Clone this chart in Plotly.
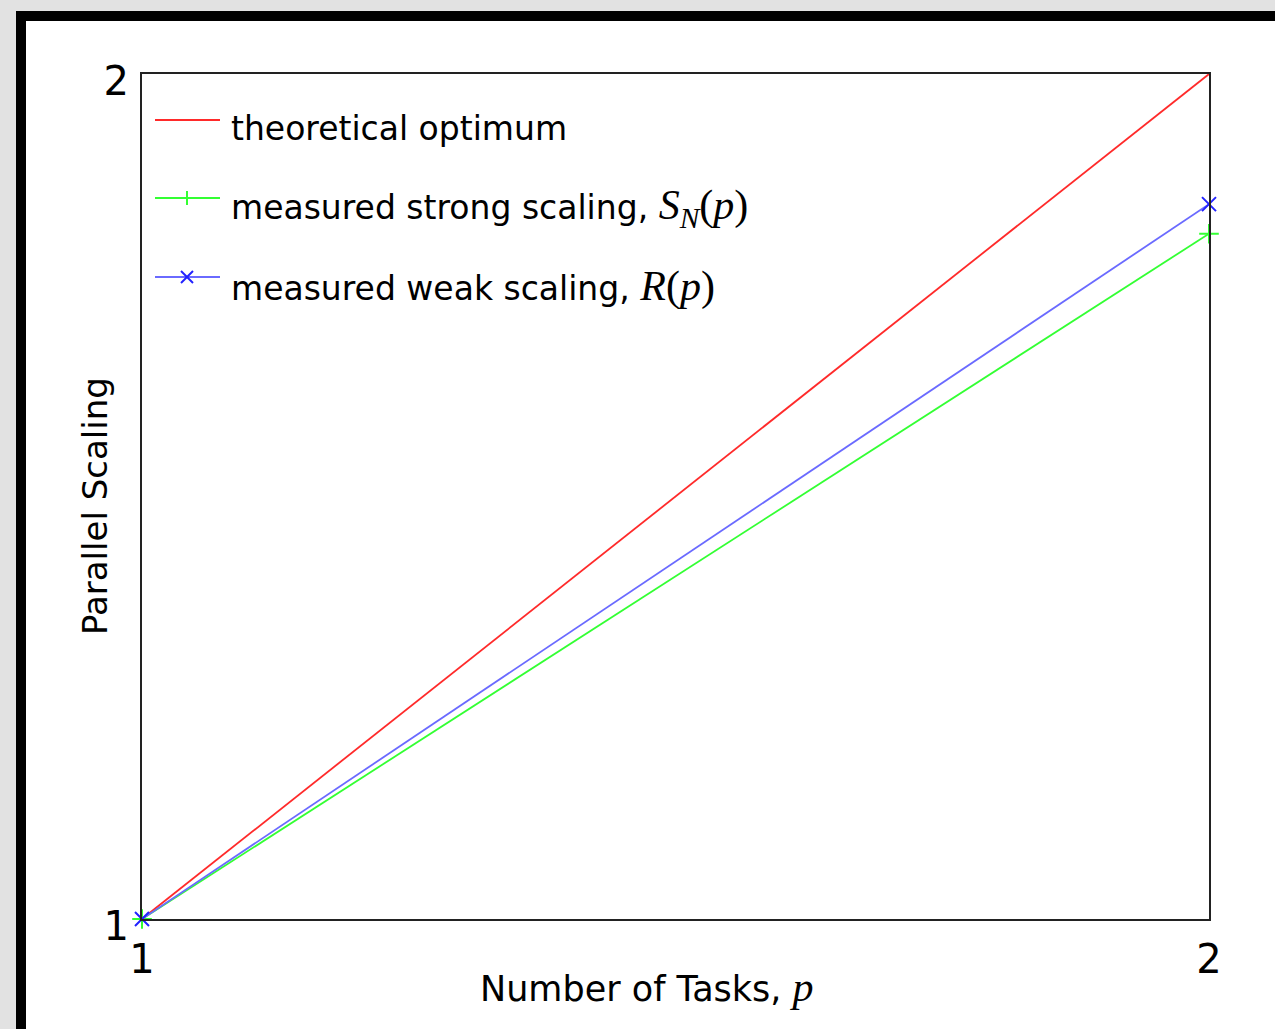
import plotly.graph_objects as go

tasks = [1, 2]
theoretical = [1, 2]
strong = [1, 1.811]
weak = [1, 1.846]

MATH = "<span style=\"font-family:'Liberation Serif';font-size:42px\">{}</span>"
legend_labels = [
    "theoretical optimum",
    "measured strong scaling, " + MATH.format("<i>S<sub>N</sub></i>(<i>p</i>)"),
    "measured weak scaling, " + MATH.format("<i>R</i>(<i>p</i>)"),
]
x_title = "Number of Tasks, " + MATH.format("<i>p</i>")
y_title = "Parallel Scaling"
ticks = [1, 2]

W, H = 1275, 1029
L, R, T, B = 142, 66, 74, 110
pw, ph = W - L - R, H - T - B

def px(x):
    return (x - L) / pw

def py(y):
    return (H - B - y) / ph

FONT = "DejaVu Sans"
RED = "#ff2a2a"
GREEN = "#33ff33"
BLUE = "#6a6aff"
BLUE_M = "#2222ff"

fig = go.Figure()
fig.add_trace(go.Scatter(x=tasks, y=theoretical, mode="lines",
                         line=dict(color=RED, width=1.8), cliponaxis=False))
fig.add_trace(go.Scatter(x=tasks, y=strong, mode="lines+markers",
                         line=dict(color=GREEN, width=1.8),
                         marker=dict(symbol="cross-thin", size=14, line=dict(color=GREEN, width=2)),
                         cliponaxis=False))
fig.add_trace(go.Scatter(x=tasks, y=weak, mode="lines+markers",
                         line=dict(color=BLUE, width=1.8),
                         marker=dict(symbol="x-thin", size=14, line=dict(color=BLUE_M, width=2)),
                         cliponaxis=False))

shapes = []
# page frame
shapes.append(dict(type="rect", xref="paper", yref="paper", layer="below",
                   x0=px(16), x1=px(1300), y0=py(11), y1=py(1060),
                   fillcolor="black", line=dict(width=0)))
shapes.append(dict(type="rect", xref="paper", yref="paper", layer="below",
                   x0=px(26), x1=px(1300), y0=py(21), y1=py(1060),
                   fillcolor="white", line=dict(width=0)))

# manual legend
leg_y = [120, 198, 277]
leg_colors = [RED, GREEN, BLUE]
for i, (yy, c) in enumerate(zip(leg_y, leg_colors)):
    shapes.append(dict(type="line", xref="paper", yref="paper",
                       x0=px(155), x1=px(220), y0=py(yy), y1=py(yy),
                       line=dict(color=c, width=2)))
# legend markers
cx = 187
shapes.append(dict(type="line", xref="paper", yref="paper",
                   x0=px(cx), x1=px(cx), y0=py(leg_y[1] - 7), y1=py(leg_y[1] + 7),
                   line=dict(color=GREEN, width=2)))
shapes.append(dict(type="line", xref="paper", yref="paper",
                   x0=px(cx - 6), x1=px(cx + 6), y0=py(leg_y[2] - 6), y1=py(leg_y[2] + 6),
                   line=dict(color=BLUE_M, width=2)))
shapes.append(dict(type="line", xref="paper", yref="paper",
                   x0=px(cx - 6), x1=px(cx + 6), y0=py(leg_y[2] + 6), y1=py(leg_y[2] - 6),
                   line=dict(color=BLUE_M, width=2)))

annotations = []
text_y = [128, 208, 286]
for lab, yy in zip(legend_labels, text_y):
    annotations.append(dict(text=lab, xref="paper", yref="paper", x=px(229), y=py(yy),
                            xanchor="left", yanchor="middle", showarrow=False,
                            font=dict(family=FONT, size=33, color="black")))
annotations.append(dict(text=x_title, xref="paper", yref="paper", x=px(647), y=py(987),
                        xanchor="center", yanchor="middle", showarrow=False,
                        font=dict(family=FONT, size=35, color="black")))
annotations.append(dict(text=y_title, xref="paper", yref="paper", x=px(95), y=py(506),
                        xanchor="center", yanchor="middle", showarrow=False, textangle=-90,
                        font=dict(family=FONT, size=34, color="black")))

fig.update_layout(
    width=W, height=H,
    margin=dict(l=L, r=R, t=T, b=B, pad=0),
    paper_bgcolor="#e2e2e2",
    plot_bgcolor="white",
    showlegend=False,
    shapes=shapes,
    annotations=annotations,
    font=dict(family=FONT, color="black"),
)
fig.update_xaxes(range=[1, 2], tickvals=ticks, ticktext=[str(t) for t in ticks],
                 showgrid=False, zeroline=False, showline=True, mirror=True,
                 linecolor="#222", linewidth=2, ticks="", ticklabelstandoff=4,
                 tickfont=dict(family=FONT, size=40, color="black"))
fig.update_yaxes(range=[1, 2], tickvals=ticks, ticktext=[str(t) for t in ticks],
                 showgrid=False, zeroline=False, showline=True, mirror=True,
                 linecolor="#222", linewidth=2, ticks="", ticklabelstandoff=3,
                 ticklabelshift=7,
                 tickfont=dict(family=FONT, size=40, color="black"))

fig.write_html("out.html", config={"displayModeBar": False},
               post_script="document.body.style.margin='0';document.body.style.overflow='hidden';")
